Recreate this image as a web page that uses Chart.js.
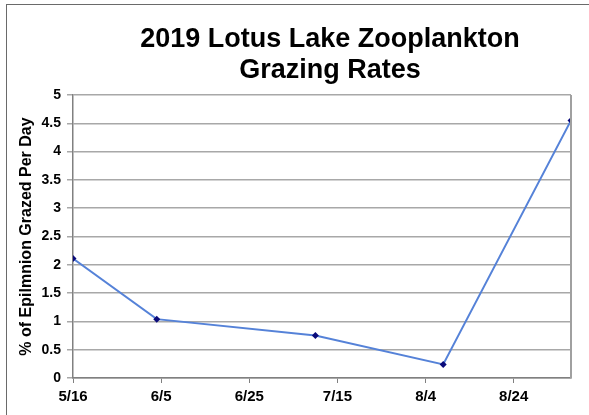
<!DOCTYPE html>
<html>
<head>
<meta charset="utf-8">
<script src="https://cdn.jsdelivr.net/npm/chart.js@4.4.1/dist/chart.umd.min.js"></script>
<style>
  html, body { margin:0; padding:0; background:#fff; }
  .wrap { position:relative; width:589px; height:415px; overflow:hidden; }
  .frame { position:absolute; left:6px; top:4px; width:700px; height:500px; border-left:1.5px solid #6a6a6a; border-top:1.5px solid #6a6a6a; pointer-events:none; }
  canvas { position:absolute; left:0; top:0; }
</style>
</head>
<body>
<div class="wrap">
  <canvas id="grazeChart" width="589" height="415"></canvas>
  <div class="frame"></div>
</div>
<script>
const TITLE_LINES = ['2019 Lotus Lake Zooplankton', 'Grazing Rates'];
const Y_TITLE = '% of Epilmnion Grazed Per Day';
const sampleDates = ['5/16', '6/4', '7/10', '8/8', '9/6'];
const grazingRates = [2.11, 1.04, 0.75, 0.24, 4.55];
const START = '5/16';
const FONT = '"Liberation Sans", Arial, sans-serif';

// days since first sample (2019)
const dayOf = s => {
  const [m, d] = s.split('/').map(Number);
  const [m0, d0] = START.split('/').map(Number);
  return (Date.UTC(2019, m - 1, d) - Date.UTC(2019, m0 - 1, d0)) / 864e5;
};
const dayLabel = v => {
  const [m0, d0] = START.split('/').map(Number);
  const dt = new Date(Date.UTC(2019, m0 - 1, d0) + v * 864e5);
  return (dt.getUTCMonth() + 1) + '/' + dt.getUTCDate();
};

const points = sampleDates.map((s, i) => ({ x: dayOf(s), y: grazingRates[i] }));

// title centred over the plot, plus right edge of plot box
const decor = {
  id: 'decor',
  afterDraw(chart) {
    const { ctx, chartArea: a } = chart;
    ctx.save();
    ctx.strokeStyle = '#a0a0a0';
    ctx.lineWidth = 2;
    ctx.beginPath();
    ctx.moveTo(a.right, a.top);
    ctx.lineTo(a.right, a.bottom);
    ctx.stroke();
    ctx.fillStyle = '#000';
    ctx.font = 'bold 27px ' + FONT;
    ctx.textAlign = 'center';
    ctx.textBaseline = 'alphabetic';
    const cx = (a.left + a.right) / 2 + 8;
    TITLE_LINES.forEach((t, i) => ctx.fillText(t, cx, 47 + i * 31));
    ctx.restore();
  }
};

new Chart(document.getElementById('grazeChart').getContext('2d'), {
  type: 'line',
  data: {
    datasets: [{
      data: points,
      borderColor: '#5582d8',
      borderWidth: 2,
      pointStyle: 'rectRot',
      pointRadius: 3.5,
      pointBackgroundColor: '#0a0a7a',
      pointBorderColor: '#0a0a7a',
      pointBorderWidth: 0,
      tension: 0
    }]
  },
  options: {
    responsive: false,
    animation: false,
    layout: { padding: { top: 95, right: 18, left: 0, bottom: 0 } },
    plugins: { legend: { display: false }, tooltip: { enabled: false } },
    scales: {
      x: {
        type: 'linear',
        min: 0,
        max: 113,
        afterBuildTicks: s => { s.ticks = s.ticks.filter(t => t.value % 20 === 0); },
        afterFit: s => { s.height = 37; },
        ticks: { stepSize: 20, callback: v => dayLabel(v), color: '#000', font: { family: FONT, weight: 'bold', size: 15 }, padding: 5, maxRotation: 0 },
        grid: { drawOnChartArea: false, tickLength: 5, color: '#808080', lineWidth: 1 },
        border: { color: '#808080', width: 1.5 }
      },
      y: {
        min: 0,
        max: 5,
        afterFit: s => { s.width = 73; },
        ticks: { stepSize: 0.5, callback: v => String(v), color: '#000', font: { family: FONT, weight: 'bold', size: 14 }, padding: 6 },
        grid: { color: '#a8a8a8', lineWidth: 1.5, tickLength: 6 },
        border: { color: '#808080', width: 1.5 },
        title: { display: true, text: Y_TITLE, color: '#000', font: { family: FONT, weight: 'bold', size: 16 }, padding: { top: 17, bottom: 0 } }
      }
    }
  },
  plugins: [decor]
});
</script>
</body>
</html>
